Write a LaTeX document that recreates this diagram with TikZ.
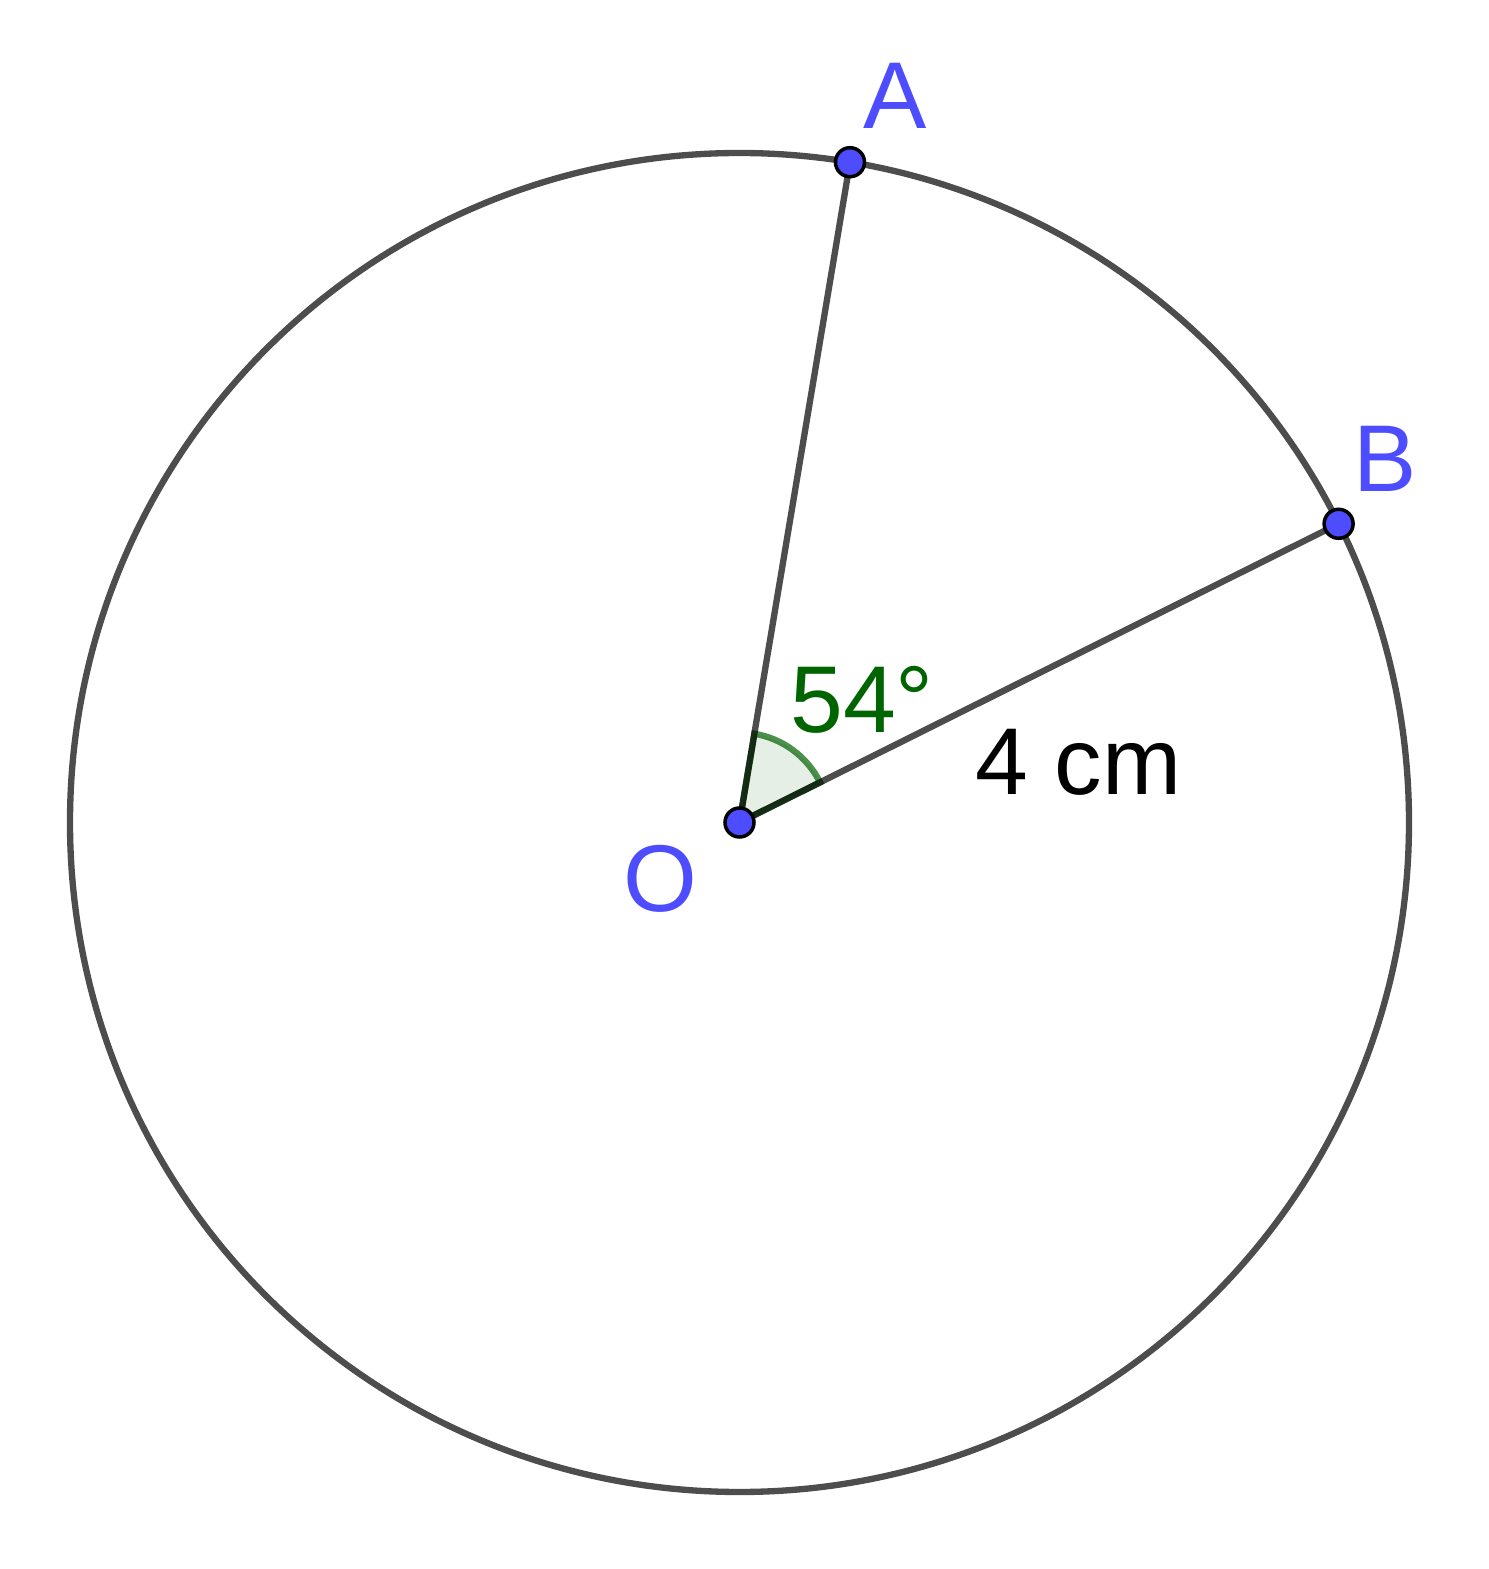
\documentclass[tikz,border=0pt]{standalone}
\usepackage{fontspec}
\setmainfont{Liberation Sans}
\usetikzlibrary{calc}
\definecolor{ptblue}{RGB}{77,77,255}
\definecolor{linegray}{RGB}{77,77,77}
\definecolor{anggreen}{RGB}{0,100,0}
\tikzset{
    ggbline/.style={draw=linegray, line width=1.8pt},
    ggbpoint/.style={circle, fill=ptblue, draw=black, line width=1pt, minimum size=0.29cm, inner sep=0pt},
    ptlabel/.style={text=ptblue, font=\fontsize{27}{32}\selectfont, inner sep=0pt},
    anglearc/.style={draw=anggreen, draw opacity=0.7, line width=1.8pt, fill=anggreen, fill opacity=0.1, blend mode=multiply}
}
\begin{document}
\begin{tikzpicture}
    \useasboundingbox (0,0) rectangle (14.89,15.69);
    \def\rad{6.695}
    \def\angA{80.5}
    \def\angB{26.5}

    % centre and points on the circle
    \coordinate (O) at (7.395,7.465);
    \coordinate (A) at ($(O)+(\angA:\rad)$);
    \coordinate (B) at ($(O)+(\angB:\rad)$);

    % circle and radii
    \draw[ggbline] (O) circle[radius=\rad];
    \draw[ggbline] (O) -- (A);
    \draw[ggbline] (O) -- (B);

    % angle AOB
    \draw[anglearc] (O) -- ($(O)+(\angB:0.9)$) arc[start angle=\angB, end angle=\angA, radius=0.9] -- cycle;

    % points
    \node[ggbpoint] (pO) at (O) {};
    \node[ggbpoint] (pA) at (A) {};
    \node[ggbpoint] (pB) at (B) {};

    % labels
    \node[ptlabel] (lA) at (8.95,14.727) {A};
    \node[ptlabel] (lB) at (13.85,11.10) {B};
    \node[ptlabel] (lO) at (6.605,6.90) {O};
    \node[ptlabel, text=anggreen] (lang) at (8.62,8.69) {54°};
    \node[ptlabel, text=black] (lrad) at (10.785,8.07) {4 cm};
\end{tikzpicture}
\end{document}
